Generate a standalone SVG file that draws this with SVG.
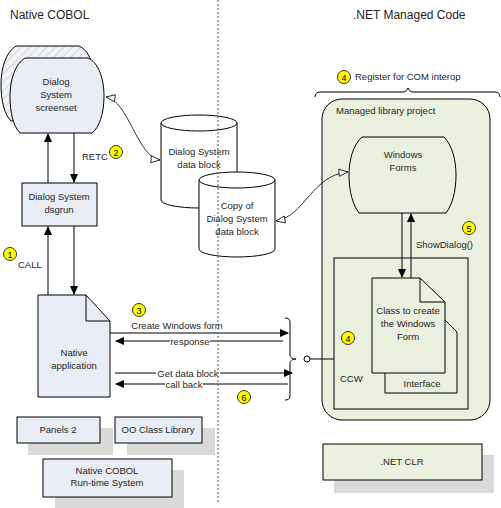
<svg xmlns="http://www.w3.org/2000/svg" width="501" height="508" viewBox="0 0 501 508">
<style>
text{font-family:"Liberation Sans",Arial,sans-serif;font-size:9.5px;fill:#262626}
.title{font-size:12px}
.c{text-anchor:middle}
.ln{fill:none;stroke:#000;stroke-width:1}
.blue{fill:#e9edf5;stroke:#000;stroke-width:1}
.green{fill:#ebf1de;stroke:#000;stroke-width:1}
.white{fill:#fff;stroke:#000;stroke-width:1}
.shadow{fill:#d9d9d9}
.badge circle{fill:#ffff00;stroke:#333;stroke-width:1}
.badge text{font-size:9px;text-anchor:middle;fill:#000}
.arr{fill:none;stroke:#000;stroke-width:1;marker-end:url(#ah)}
.open{fill:none;stroke:#000;stroke-width:0.8;marker-start:url(#oh);marker-end:url(#oh)}
.lbl{fill:#fff}
</style>
<defs>
<marker id="ah" markerUnits="userSpaceOnUse" markerWidth="10" markerHeight="10" refX="8" refY="4" orient="auto-start-reverse" viewBox="0 0 10 8"><path d="M0,0 L9,4 L0,8 Z" fill="#000"/></marker>
<marker id="oh" markerUnits="userSpaceOnUse" markerWidth="12" markerHeight="10" refX="10" refY="4" orient="auto-start-reverse" viewBox="0 0 12 8"><path d="M1,0.5 L10,4 L1,7.5 Z" fill="#fff" stroke="#000" stroke-width="0.8"/></marker>
<pattern id="hatch" patternUnits="userSpaceOnUse" width="6" height="6" patternTransform="rotate(45)"><rect width="6" height="6" fill="#f2f3f6"/><line x1="0" y1="0" x2="0" y2="6" stroke="#c4c4c4" stroke-width="1.2"/></pattern>
</defs>
<rect width="501" height="508" fill="#fff"/>

<text class="title" x="10" y="19">Native COBOL</text>
<text class="title" x="353" y="19">.NET Managed Code</text>

<g id="screenset">
<path d="M16,46 H79 C89,50 95,66 95,84 C95,102 90,116 83,121 H11 C4,114 1,100 1,84 C1,68 6,52 16,46 Z" fill="url(#hatch)" stroke="#000"/>
<path class="blue" d="M25,58 H88 C98,62 104,78 104,96 C104,114 99,128 92,133 H20 C13,126 10,112 10,96 C10,80 15,64 25,58 Z"/>
<text class="c" x="56" y="85">Dialog</text>
<text class="c" x="56" y="98">System</text>
<text class="c" x="56" y="111">screenset</text>
</g>

<g id="dsgrun">
<rect class="blue" x="22" y="183" width="75" height="43"/>
<text class="c" x="59" y="200">Dialog System</text>
<text class="c" x="59" y="213">dsgrun</text>
</g>

<g id="native-app">
<path class="blue" d="M38,295 H86 L110,321 V397 H38 Z"/>
<path class="ln" d="M86,295 V321 H110"/>
<text class="c" x="74" y="356">Native</text>
<text class="c" x="74" y="369">application</text>
</g>

<g id="cyl-datablock">
<path class="white" d="M161,123 V200 A38,8 0 0 0 237,200 V123"/>
<ellipse class="white" cx="199" cy="123" rx="38" ry="8"/>
<text class="c" x="199" y="155">Dialog System</text>
<text class="c" x="199" y="168">data block</text>
</g>

<g id="cyl-copy">
<path class="white" d="M199,180 V249 A38,8 0 0 0 275,249 V180"/>
<ellipse class="white" cx="237" cy="180" rx="38" ry="8"/>
<text class="c" x="237" y="209">Copy of</text>
<text class="c" x="237" y="222">Dialog System</text>
<text class="c" x="237" y="235">data block</text>
</g>

<g id="managed-library">
<path class="ln" d="M315,97 C315,94 317,92 320,92 H403 C406,92 407,90 408,88 C409,90 410,92 413,92 H495 C498,92 500,94 500,97"/>
<text x="355" y="80">Register for COM interop</text>
<rect class="green" x="322" y="99" width="168" height="321" rx="20" ry="20"/>
<text x="336" y="114">Managed library project</text>
</g>

<g id="windows-forms">
<path class="green" d="M362,137 H444 C452,145 456,160 456,175 C456,192 452,205 446,213 H359 C353,205 349,192 349,175 C349,160 353,145 362,137 Z"/>
<text class="c" x="403" y="158">Windows</text>
<text class="c" x="403" y="171">Forms</text>
</g>

<g id="ccw">
<rect class="ln" x="334" y="258" width="134" height="151"/>
<text x="340" y="382">CCW</text>
</g>

<g id="interface">
<path class="green" d="M385,308 H433 L457,332 V393 H385 Z"/>
<text class="c" x="422" y="387">Interface</text>
</g>

<g id="class-doc">
<path class="green" d="M372,278 H420 L445,302 V373 H372 Z"/>
<path class="ln" d="M420,278 V302 H445"/>
<text class="c" x="408" y="314">Class to create</text>
<text class="c" x="408" y="327">the Windows</text>
<text class="c" x="408" y="340">Form</text>
</g>

<g id="panels2">
<rect class="shadow" x="28" y="428" width="85" height="27"/>
<rect class="blue" x="17" y="417" width="83" height="26"/>
<text class="c" x="58" y="433">Panels 2</text>
</g>
<g id="oo-class-library">
<rect class="shadow" x="127" y="428" width="88" height="27"/>
<rect class="blue" x="115" y="417" width="87" height="26"/>
<text class="c" x="158" y="433">OO Class Library</text>
</g>
<g id="runtime">
<rect class="shadow" x="55" y="470" width="129" height="38"/>
<rect class="blue" x="43" y="459" width="129" height="38"/>
<text class="c" x="107" y="474">Native COBOL</text>
<text class="c" x="107" y="486">Run-time System</text>
</g>
<g id="net-clr">
<rect class="shadow" x="334" y="455" width="160" height="38"/>
<rect class="green" x="323" y="444" width="159" height="36"/>
<text class="c" x="402" y="465">.NET CLR</text>
</g>

<g id="connectors">
<line class="arr" x1="48" y1="183" x2="48" y2="134"/>
<line class="arr" x1="74" y1="133" x2="74" y2="182"/>
<text x="82" y="160">RETC</text>
<line class="arr" x1="48" y1="295" x2="48" y2="227"/>
<line class="arr" x1="74" y1="226" x2="74" y2="294"/>
<text x="18" y="268">CALL</text>
<path class="open" d="M106,97 C128,100 138,158 160,160"/>
<path class="open" d="M276,221 C305,216 312,175 348,172"/>

<line class="arr" x1="110" y1="333" x2="288" y2="333"/>
<text class="c" x="177" y="329">Create Windows form</text>
<line class="arr" x1="283" y1="341" x2="116" y2="341"/>
<rect class="lbl" x="170" y="336" width="40" height="10"/>
<text class="c" x="190" y="344.5">response</text>
<line class="arr" x1="115" y1="373" x2="292" y2="373"/>
<rect class="lbl" x="156" y="368" width="64" height="10"/>
<text class="c" x="188" y="376.5">Get data block</text>
<line class="arr" x1="288" y1="384" x2="116" y2="384"/>
<rect class="lbl" x="165" y="379" width="38" height="10"/>
<text class="c" x="184" y="387.5">call back</text>
<path class="ln" d="M285,318 C288,318 290,319 290,322 V355 C290,357 292,359 296,359 C292,359 290,361 290,363 V396 C290,399 288,400 285,400"/>
<circle cx="307" cy="359" r="3" fill="#fff" stroke="#000"/>
<line class="ln" x1="310" y1="359" x2="334" y2="359"/>

<line class="arr" x1="402" y1="213" x2="402" y2="277"/>
<line class="arr" x1="411" y1="278" x2="411" y2="214"/>
<text x="416" y="248">ShowDialog()</text>
</g>

<g id="badges">
<g class="badge"><circle cx="10" cy="254" r="6.5"/><text x="10" y="257.5">1</text></g>
<g class="badge"><circle cx="116" cy="152" r="6.5"/><text x="116" y="155.5">2</text></g>
<g class="badge"><circle cx="139" cy="310" r="6.5"/><text x="139" y="313.5">3</text></g>
<g class="badge"><circle cx="344" cy="77" r="6.5"/><text x="344" y="80.5">4</text></g>
<g class="badge"><circle cx="348" cy="338" r="6.5"/><text x="348" y="341.5">4</text></g>
<g class="badge"><circle cx="469" cy="228" r="6.5"/><text x="469" y="231.5">5</text></g>
<g class="badge"><circle cx="244" cy="397" r="6.5"/><text x="244" y="400.5">6</text></g>
</g>

<line x1="218" y1="0" x2="218" y2="503" stroke="#555" stroke-width="1" stroke-dasharray="2,2"/>
</svg>
